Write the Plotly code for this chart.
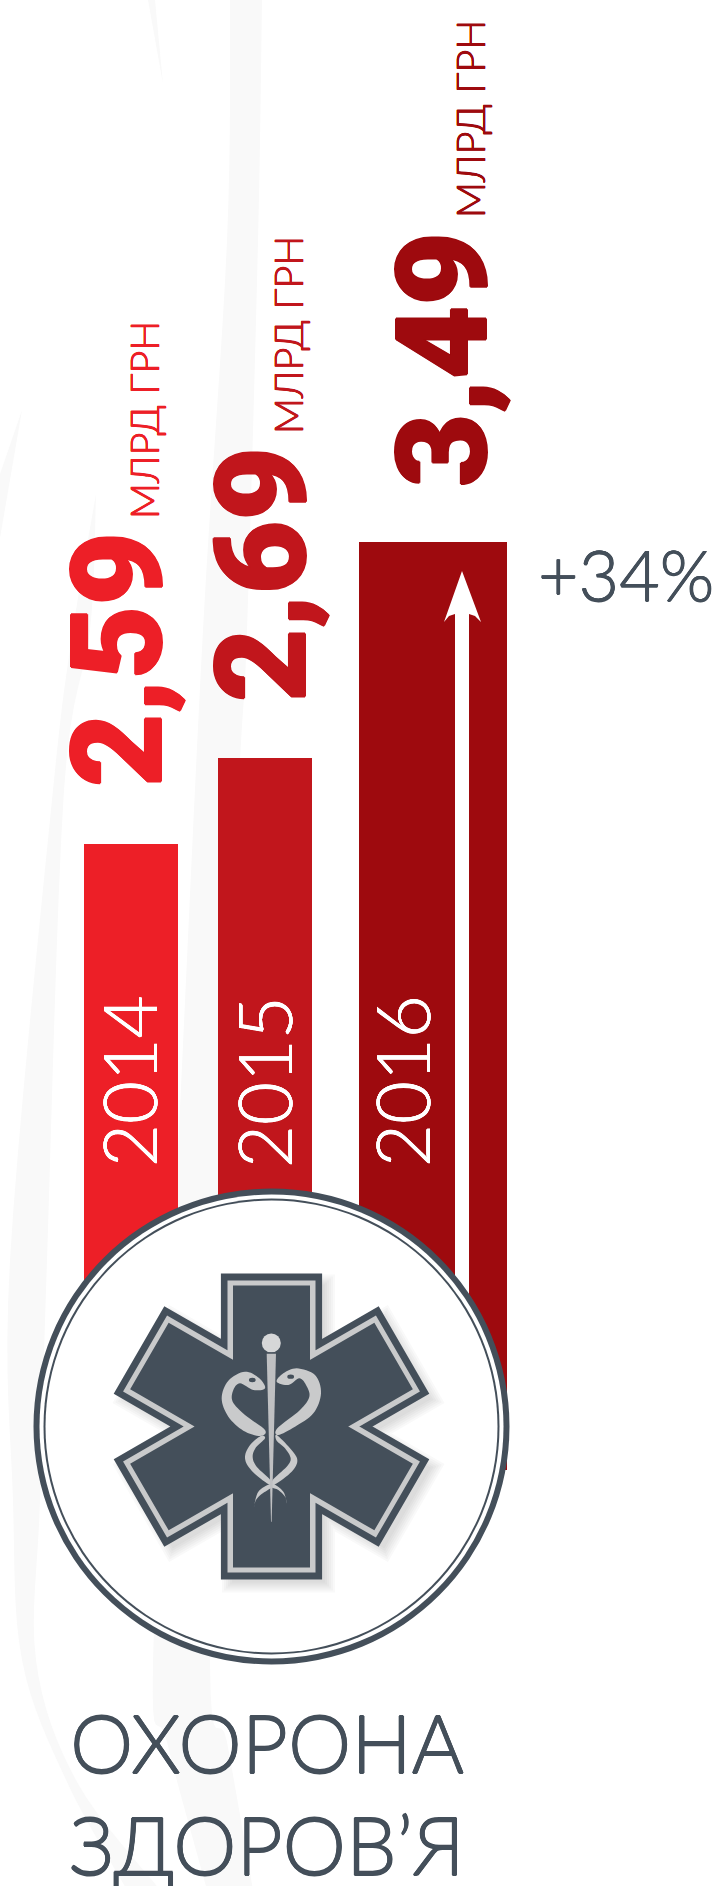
import math
import plotly.graph_objects as go

W, H = 717, 1886

# ---- data ----
years = ["2014", "2015", "2016"]
values = [2.59, 2.69, 3.49]
unit = "МЛРД ГРН"
bar_heights = [626, 712, 928]
growth_label = "+34%"
title_lines = ["ОХОРОНА", "ЗДОРОВ’Я"]

# ---- styling / layout ----
bar_centers = [131, 265, 433]
bar_widths = [94, 94, 148]
bar_colors = ["#ED1F27", "#C1161C", "#9E0A0E"]
baseline = 416
DARK = "#444F5A"
SILVER = "#C9CACB"
WISP = "#F9F9F9"
NUM_FONT = "Roboto"
LIGHT_FONT = "Lato"


def Y(py):
    return H - py


def poly(pts, close=True):
    s = "M" + " L".join(f"{x:.2f},{Y(y):.2f}" for x, y in pts)
    return s + (" Z" if close else "")


def _cr(p0, p1, p2, p3, n, out):
    for k in range(n):
        t = k / n
        f = lambda a, b, c, d: 0.5 * (2 * b + (c - a) * t + (2 * a - 5 * b + 4 * c - d) * t * t + (3 * b - a - 3 * c + d) * t ** 3)
        out.append((f(p0[0], p1[0], p2[0], p3[0]), f(p0[1], p1[1], p2[1], p3[1])))


def smooth(pts, n=8):
    out = []
    m = len(pts)
    for i in range(m):
        _cr(pts[(i - 1) % m], pts[i], pts[(i + 1) % m], pts[(i + 2) % m], n, out)
    return out


def open_smooth(pts, n=8):
    out = []
    ext = [pts[0]] + pts + [pts[-1]]
    for i in range(1, len(ext) - 2):
        _cr(ext[i - 1], ext[i], ext[i + 1], ext[i + 2], n, out)
    out.append(pts[-1])
    return out


shapes = []


def add_path(path, fill, layer="above", opacity=1):
    shapes.append(dict(type="path", path=path, fillcolor=fill, line=dict(width=0), layer=layer,
                       opacity=opacity, fillrule="nonzero", xref="x", yref="y"))


def add_circle(cx, cy, r, fill, opacity=1):
    shapes.append(dict(type="circle", x0=cx - r, x1=cx + r, y0=Y(cy - r), y1=Y(cy + r), fillcolor=fill,
                       line=dict(width=0), layer="above", opacity=opacity, xref="x", yref="y"))


# background wisps
w1_r = [(262, 0), (258, 241), (247, 630), (240, 760), (222, 1100), (210, 1662), (227, 1742), (253, 1890)]
w1_l = [(207, 1890), (167, 1742), (153, 1662), (178, 1150), (203, 630), (227, 241), (230, 0)]
add_path(poly(open_smooth(w1_r) + open_smooth(w1_l)), WISP, "below")
w2_r = [(96, 494), (90, 630), (64, 790), (47, 1260), (40, 1500), (36, 1660), (77, 1782), (160, 1890)]
w2_l = [(127, 1890), (67, 1782), (22, 1660), (13, 1500), (10, 1260), (53, 790), (73, 630), (96, 494)]
add_path(poly(open_smooth(w2_r) + open_smooth(w2_l)), WISP, "below")
add_path(poly([(148, 0), (155, 0), (163, 84)]), WISP, "below")
add_path(poly([(22, 410), (0, 474), (0, 538)]), WISP, "below")

# arrow on the last bar
add_path(poly([(455, 1400), (455, 614)] + [(449, 616), (444, 622), (462, 571), (481, 622), (475, 616)] + [(469, 614), (469, 1400)]), "white")

# badge
CX, CY = 271.5, 1426.5
add_circle(CX, CY, 238, DARK)
add_circle(CX, CY, 232, "white")
add_circle(CX, CY, 228, DARK)
add_circle(CX, CY, 226, "white")


def star(w, L, cx=CX, cy=CY):
    parts = []
    for ang in (0, 60, 120):
        a = math.radians(ang)
        u = (math.sin(a), -math.cos(a))
        v = (math.cos(a), math.sin(a))
        pts = [(cx + s * L * u[0] + t * w * v[0], cy + s * L * u[1] + t * w * v[1])
               for s, t in ((1, -1), (1, 1), (-1, 1), (-1, -1))]
        parts.append(poly(pts))
    return " ".join(parts)


# soft shadow of the star
for k in range(6):
    add_path(star(50.6 + 6 - 2 * k, 153 + 6 - 2 * k, CX + 7, CY + 7), "#555555", opacity=0.035)
add_path(star(50.6, 153), DARK)
add_path(star(44, 146), SILVER)
add_path(star(38.5, 141), DARK)


def z(pts):
    return [(220 + x / 3, 1360 + y / 3) for x, y in pts]


snakes = [
    [(135, 85), (118, 55), (75, 35), (25, 62), (5, 115), (25, 170), (70, 212), (120, 228), (135, 210), (75, 165), (38, 125), (40, 90), (60, 70), (100, 90)],
    [(170, 65), (190, 40), (230, 25), (285, 45), (303, 100), (280, 160), (225, 200), (175, 225), (172, 205), (240, 150), (268, 110), (258, 75), (238, 55), (205, 75)],
    [(122, 228), (88, 258), (75, 295), (95, 332), (146, 373), (153, 362), (110, 320), (98, 290), (108, 262), (135, 235)],
    [(170, 225), (210, 265), (232, 300), (215, 335), (165, 373), (158, 360), (200, 320), (212, 295), (195, 265), (170, 242)],
    [(150, 372), (115, 395), (102, 440), (108, 420), (125, 402), (155, 382)],
    [(158, 370), (190, 395), (200, 430), (195, 410), (175, 390), (155, 382)],
]
for s in snakes:
    add_path(poly(smooth(z(s))), SILVER)
# staff and ball
add_path(poly(z([(140, -22), (168, -22), (155, 485), (153, 485)])), "#BFC0C2")
add_circle(271.3, 1343, 9.5, "#D6D7D8")
shapes.append(dict(type="line", x0=265, x1=278, y0=Y(1353), y1=Y(1353), line=dict(color=DARK, width=1.5), layer="above"))
for ex, ey in [(97, 60), (212, 50)]:
    px, py = 220 + ex / 3, 1360 + ey / 3
    shapes.append(dict(type="circle", x0=px - 3.4, x1=px + 3.4, y0=Y(py - 2.2), y1=Y(py + 2.2), fillcolor=DARK,
                       line=dict(width=0), layer="above"))

# ---- figure ----
fig = go.Figure(go.Bar(x=bar_centers, y=bar_heights, base=baseline, width=bar_widths,
                       marker=dict(color=bar_colors, line=dict(width=0)), hoverinfo="skip"))


def thick(color, d):
    return f"{d}px 0 0 {color}, -{d}px 0 0 {color}, 0 {d}px 0 {color}, 0 -{d}px 0 {color}"


def label(text, cx, cy, size, color, family=LIGHT_FONT, weight=300, angle=-90, embolden=0):
    font = dict(family=family, size=size, color=color, weight=weight)
    if embolden:
        font["shadow"] = thick(color, embolden)
    fig.add_annotation(x=cx, y=Y(cy), text=text, showarrow=False, textangle=angle, xref="x", yref="y",
                       xanchor="center", yanchor="middle", borderpad=0, align="center", font=font)


fmt = [f"{v:.2f}".replace(".", ",") for v in values]
num_pos = [(117, 660), (261, 575), (442, 360)]
unit_pos = [(143, 420), (287, 335), (469, 119)]
year_pos = [(128, 1081), (263, 1082), (401, 1081)]
for i in range(3):
    label(fmt[i], *num_pos[i], 127, bar_colors[i], NUM_FONT, 900, embolden=1)
    label(unit, *unit_pos[i], 39.5, bar_colors[i], embolden=0.4)
    label(years[i], *year_pos[i], 74, "white", embolden=0.4)
label(growth_label, 626, 574, 70, DARK, angle=0, embolden=0.5)
label(title_lines[0], 267, 1742, 80, DARK, angle=0, embolden=0.6)
label(title_lines[1], 267, 1844, 80, DARK, angle=0, embolden=0.6)

fig.update_layout(width=W, height=H, autosize=False, margin=dict(l=0, r=0, t=0, b=0, pad=0),
                  paper_bgcolor="white", plot_bgcolor="white", showlegend=False, shapes=shapes,
                  xaxis=dict(range=[0, W], visible=False, fixedrange=True),
                  yaxis=dict(range=[0, H], visible=False, fixedrange=True))
fig.write_html("out.html", config=dict(displayModeBar=False),
               post_script="document.body.style.margin='0';document.documentElement.style.overflow='hidden';")
